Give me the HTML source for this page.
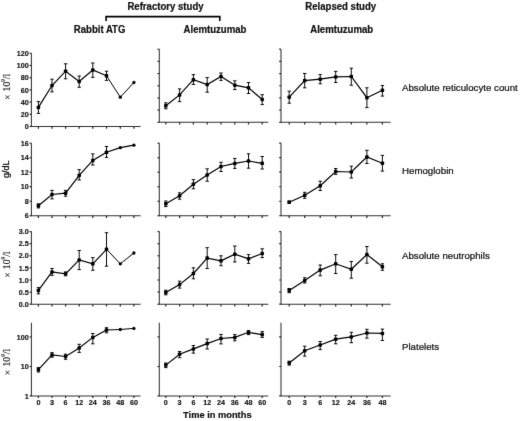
<!DOCTYPE html><html><head><meta charset="utf-8"><style>html,body{margin:0;padding:0;background:#fff;overflow:hidden;width:520px;height:421px;}svg{display:block;will-change:transform;}text{font-family:"Liberation Sans",sans-serif;fill:#111;}.b{font-weight:bold;}</style></head><body>
<svg width="520" height="421" viewBox="0 0 520 421">
<rect width="520" height="421" fill="#fff"/>
<defs><filter id="bl" x="0" y="0" width="520" height="421" filterUnits="userSpaceOnUse" color-interpolation-filters="sRGB"><feConvolveMatrix order="3" kernelMatrix="0.00524 0.06192 0.00524 0.06192 0.73137 0.06192 0.00524 0.06192 0.00524" edgeMode="duplicate" preserveAlpha="true"/></filter></defs><g filter="url(#bl)"><rect width="520" height="421" fill="#fff"/>
<text transform="translate(165.50,9.60) scale(1,1.06)" font-size="9.6" font-weight="bold" text-anchor="middle" fill="#111" stroke="#111" stroke-width="0.2">Refractory study</text>
<path d="M106.1 21V16.6H219.8V21" fill="none" stroke="#000" stroke-width="1.6"/>
<text transform="translate(99.60,33.00) scale(1,1.06)" font-size="9.6" font-weight="bold" text-anchor="middle" fill="#111" stroke="#111" stroke-width="0.2">Rabbit ATG</text>
<text transform="translate(215.00,33.00) scale(1,1.06)" font-size="9.6" font-weight="bold" text-anchor="middle" fill="#111" stroke="#111" stroke-width="0.2">Alemtuzumab</text>
<text transform="translate(340.75,9.60) scale(1,1.06)" font-size="9.6" font-weight="bold" text-anchor="middle" fill="#111" stroke="#111" stroke-width="0.2">Relapsed study</text>
<text transform="translate(341.70,33.00) scale(1,1.06)" font-size="9.6" font-weight="bold" text-anchor="middle" fill="#111" stroke="#111" stroke-width="0.2">Alemtuzumab</text>
<text transform="translate(402.00,91.40) scale(1,1.02)" font-size="9.7" text-anchor="start" fill="#111" stroke="#111" stroke-width="0.22">Absolute reticulocyte count</text>
<text transform="translate(402.00,173.90) scale(1,1.02)" font-size="9.7" text-anchor="start" fill="#111" stroke="#111" stroke-width="0.22">Hemoglobin</text>
<text transform="translate(402.00,258.90) scale(1,1.02)" font-size="9.7" text-anchor="start" fill="#111" stroke="#111" stroke-width="0.22">Absolute neutrophils</text>
<text transform="translate(402.00,350.10) scale(1,1.02)" font-size="9.7" text-anchor="start" fill="#111" stroke="#111" stroke-width="0.22">Platelets</text>
<text transform="translate(217.30,418.00) scale(1,1.06)" font-size="9.3" font-weight="bold" text-anchor="middle" fill="#111" stroke="#111" stroke-width="0.2">Time in months</text>
<text transform="translate(9.7,86.9) rotate(-90)" text-anchor="middle" fill="#111" stroke="#111" stroke-width="0.15" style="font-family:'Liberation Serif',serif" font-size="9.8"><tspan dy="0.9">&#215;</tspan><tspan dy="-0.9" dx="0.6"> 10</tspan><tspan font-size="5.10" dy="-4.31">9</tspan><tspan dy="4.31">/l</tspan></text>
<text transform="translate(9.3,169.2) rotate(-90)" text-anchor="middle" font-size="9" fill="#111" stroke="#111" stroke-width="0.3">g/dL</text>
<text transform="translate(9.7,264.6) rotate(-90)" text-anchor="middle" fill="#111" stroke="#111" stroke-width="0.15" style="font-family:'Liberation Serif',serif" font-size="9.8"><tspan dy="0.9">&#215;</tspan><tspan dy="-0.9" dx="0.6"> 10</tspan><tspan font-size="5.10" dy="-4.31">9</tspan><tspan dy="4.31">/l</tspan></text>
<text transform="translate(9.7,362.0) rotate(-90)" text-anchor="middle" fill="#111" stroke="#111" stroke-width="0.15" style="font-family:'Liberation Serif',serif" font-size="9.8"><tspan dy="0.9">&#215;</tspan><tspan dy="-0.9" dx="0.6"> 10</tspan><tspan font-size="5.10" dy="-4.31">9</tspan><tspan dy="4.31">/l</tspan></text>
<path d="M31.4 53.3V126.5H140.6" fill="none" stroke="#333" stroke-width="1.05"/>
<path d="M29.599999999999998 126.50H31.4" stroke="#222" stroke-width="1.2"/>
<text transform="translate(28.70,129.10) scale(1,1.0)" font-size="7.2" font-weight="bold" text-anchor="end" fill="#111" stroke="#111" stroke-width="0.15">0</text>
<path d="M29.599999999999998 114.30H31.4" stroke="#222" stroke-width="1.2"/>
<text transform="translate(28.70,116.90) scale(1,1.0)" font-size="7.2" font-weight="bold" text-anchor="end" fill="#111" stroke="#111" stroke-width="0.15">20</text>
<path d="M29.599999999999998 102.10H31.4" stroke="#222" stroke-width="1.2"/>
<text transform="translate(28.70,104.70) scale(1,1.0)" font-size="7.2" font-weight="bold" text-anchor="end" fill="#111" stroke="#111" stroke-width="0.15">40</text>
<path d="M29.599999999999998 89.90H31.4" stroke="#222" stroke-width="1.2"/>
<text transform="translate(28.70,92.50) scale(1,1.0)" font-size="7.2" font-weight="bold" text-anchor="end" fill="#111" stroke="#111" stroke-width="0.15">60</text>
<path d="M29.599999999999998 77.70H31.4" stroke="#222" stroke-width="1.2"/>
<text transform="translate(28.70,80.30) scale(1,1.0)" font-size="7.2" font-weight="bold" text-anchor="end" fill="#111" stroke="#111" stroke-width="0.15">80</text>
<path d="M29.599999999999998 65.50H31.4" stroke="#222" stroke-width="1.2"/>
<text transform="translate(28.70,68.10) scale(1,1.0)" font-size="7.2" font-weight="bold" text-anchor="end" fill="#111" stroke="#111" stroke-width="0.15">100</text>
<path d="M29.599999999999998 53.30H31.4" stroke="#222" stroke-width="1.2"/>
<text transform="translate(28.70,55.90) scale(1,1.0)" font-size="7.2" font-weight="bold" text-anchor="end" fill="#111" stroke="#111" stroke-width="0.15">120</text>
<path d="M38.4 126.5V128.7" stroke="#222" stroke-width="1.2"/>
<path d="M52.0 126.5V128.7" stroke="#222" stroke-width="1.2"/>
<path d="M65.6 126.5V128.7" stroke="#222" stroke-width="1.2"/>
<path d="M79.2 126.5V128.7" stroke="#222" stroke-width="1.2"/>
<path d="M92.8 126.5V128.7" stroke="#222" stroke-width="1.2"/>
<path d="M106.5 126.5V128.7" stroke="#222" stroke-width="1.2"/>
<path d="M120.3 126.5V128.7" stroke="#222" stroke-width="1.2"/>
<path d="M133.9 126.5V128.7" stroke="#222" stroke-width="1.2"/>
<path d="M38.40 107.40 L52.00 85.50 L65.60 71.20 L79.20 81.50 L92.80 70.00 L106.50 75.80" fill="none" stroke="#000" stroke-width="1.2" stroke-linejoin="miter"/>
<path d="M106.50 75.80 L120.30 97.20 L133.90 82.50" fill="none" stroke="#000" stroke-width="1.0" stroke-linejoin="miter"/>
<path d="M38.40 101.60V113.40M36.70 101.60H40.10M36.70 113.40H40.10" stroke="#000" stroke-width="0.95" fill="none"/>
<rect x="36.65" y="105.65" width="3.5" height="3.5" rx="0.9" fill="#000"/>
<path d="M52.00 79.20V91.90M50.30 79.20H53.70M50.30 91.90H53.70" stroke="#000" stroke-width="0.95" fill="none"/>
<rect x="50.25" y="83.75" width="3.5" height="3.5" rx="0.9" fill="#000"/>
<path d="M65.60 63.80V78.80M63.90 63.80H67.30M63.90 78.80H67.30" stroke="#000" stroke-width="0.95" fill="none"/>
<rect x="63.85" y="69.45" width="3.5" height="3.5" rx="0.9" fill="#000"/>
<path d="M79.20 76.00V87.30M77.50 76.00H80.90M77.50 87.30H80.90" stroke="#000" stroke-width="0.95" fill="none"/>
<rect x="77.45" y="79.75" width="3.5" height="3.5" rx="0.9" fill="#000"/>
<path d="M92.80 63.00V77.40M91.10 63.00H94.50M91.10 77.40H94.50" stroke="#000" stroke-width="0.95" fill="none"/>
<rect x="91.05" y="68.25" width="3.5" height="3.5" rx="0.9" fill="#000"/>
<path d="M106.50 71.20V80.40M104.80 71.20H108.20M104.80 80.40H108.20" stroke="#000" stroke-width="0.95" fill="none"/>
<rect x="104.75" y="74.05" width="3.5" height="3.5" rx="0.9" fill="#000"/>
<circle cx="120.30" cy="97.20" r="1.65" fill="#000"/>
<circle cx="133.90" cy="82.50" r="1.65" fill="#000"/>
<path d="M159.3 49.2V122.3H268.3" fill="none" stroke="#333" stroke-width="1.05"/>
<path d="M157.5 122.30H159.3" stroke="#222" stroke-width="1.2"/>
<path d="M157.5 110.12H159.3" stroke="#222" stroke-width="1.2"/>
<path d="M157.5 97.93H159.3" stroke="#222" stroke-width="1.2"/>
<path d="M157.5 85.75H159.3" stroke="#222" stroke-width="1.2"/>
<path d="M157.5 73.57H159.3" stroke="#222" stroke-width="1.2"/>
<path d="M157.5 61.38H159.3" stroke="#222" stroke-width="1.2"/>
<path d="M157.5 49.20H159.3" stroke="#222" stroke-width="1.2"/>
<path d="M165.8 122.3V124.5" stroke="#222" stroke-width="1.2"/>
<path d="M179.6 122.3V124.5" stroke="#222" stroke-width="1.2"/>
<path d="M193.4 122.3V124.5" stroke="#222" stroke-width="1.2"/>
<path d="M207.2 122.3V124.5" stroke="#222" stroke-width="1.2"/>
<path d="M221.0 122.3V124.5" stroke="#222" stroke-width="1.2"/>
<path d="M234.8 122.3V124.5" stroke="#222" stroke-width="1.2"/>
<path d="M248.5 122.3V124.5" stroke="#222" stroke-width="1.2"/>
<path d="M262.2 122.3V124.5" stroke="#222" stroke-width="1.2"/>
<path d="M165.80 105.80 L179.60 94.90 L193.40 79.70 L207.20 84.50 L221.00 76.50 L234.80 85.20 L248.50 87.80 L262.20 99.50" fill="none" stroke="#000" stroke-width="1.2" stroke-linejoin="miter"/>
<path d="M165.80 102.80V108.80M164.10 102.80H167.50M164.10 108.80H167.50" stroke="#000" stroke-width="0.95" fill="none"/>
<rect x="164.05" y="104.05" width="3.5" height="3.5" rx="0.9" fill="#000"/>
<path d="M179.60 88.90V101.60M177.90 88.90H181.30M177.90 101.60H181.30" stroke="#000" stroke-width="0.95" fill="none"/>
<rect x="177.85" y="93.15" width="3.5" height="3.5" rx="0.9" fill="#000"/>
<path d="M193.40 74.60V84.50M191.70 74.60H195.10M191.70 84.50H195.10" stroke="#000" stroke-width="0.95" fill="none"/>
<rect x="191.65" y="77.95" width="3.5" height="3.5" rx="0.9" fill="#000"/>
<path d="M207.20 77.60V92.20M205.50 77.60H208.90M205.50 92.20H208.90" stroke="#000" stroke-width="0.95" fill="none"/>
<rect x="205.45" y="82.75" width="3.5" height="3.5" rx="0.9" fill="#000"/>
<path d="M221.00 73.00V80.40M219.30 73.00H222.70M219.30 80.40H222.70" stroke="#000" stroke-width="0.95" fill="none"/>
<rect x="219.25" y="74.75" width="3.5" height="3.5" rx="0.9" fill="#000"/>
<path d="M234.80 80.80V89.60M233.10 80.80H236.50M233.10 89.60H236.50" stroke="#000" stroke-width="0.95" fill="none"/>
<rect x="233.05" y="83.45" width="3.5" height="3.5" rx="0.9" fill="#000"/>
<path d="M248.50 82.50V93.50M246.80 82.50H250.20M246.80 93.50H250.20" stroke="#000" stroke-width="0.95" fill="none"/>
<rect x="246.75" y="86.05" width="3.5" height="3.5" rx="0.9" fill="#000"/>
<path d="M262.20 94.70V104.60M260.50 94.70H263.90M260.50 104.60H263.90" stroke="#000" stroke-width="0.95" fill="none"/>
<rect x="260.45" y="97.75" width="3.5" height="3.5" rx="0.9" fill="#000"/>
<path d="M281.0 49.2V122.3H390.6" fill="none" stroke="#333" stroke-width="1.05"/>
<path d="M279.2 122.30H281.0" stroke="#222" stroke-width="1.2"/>
<path d="M279.2 110.12H281.0" stroke="#222" stroke-width="1.2"/>
<path d="M279.2 97.93H281.0" stroke="#222" stroke-width="1.2"/>
<path d="M279.2 85.75H281.0" stroke="#222" stroke-width="1.2"/>
<path d="M279.2 73.57H281.0" stroke="#222" stroke-width="1.2"/>
<path d="M279.2 61.38H281.0" stroke="#222" stroke-width="1.2"/>
<path d="M279.2 49.20H281.0" stroke="#222" stroke-width="1.2"/>
<path d="M289.2 122.3V124.5" stroke="#222" stroke-width="1.2"/>
<path d="M304.7 122.3V124.5" stroke="#222" stroke-width="1.2"/>
<path d="M320.2 122.3V124.5" stroke="#222" stroke-width="1.2"/>
<path d="M335.7 122.3V124.5" stroke="#222" stroke-width="1.2"/>
<path d="M351.3 122.3V124.5" stroke="#222" stroke-width="1.2"/>
<path d="M366.9 122.3V124.5" stroke="#222" stroke-width="1.2"/>
<path d="M382.4 122.3V124.5" stroke="#222" stroke-width="1.2"/>
<path d="M289.20 97.20 L304.70 80.60 L320.20 79.20 L335.70 76.90 L351.30 76.50 L366.90 97.70 L382.40 90.30" fill="none" stroke="#000" stroke-width="1.2" stroke-linejoin="miter"/>
<path d="M289.20 91.20V103.20M287.50 91.20H290.90M287.50 103.20H290.90" stroke="#000" stroke-width="0.95" fill="none"/>
<rect x="287.45" y="95.45" width="3.5" height="3.5" rx="0.9" fill="#000"/>
<path d="M304.70 73.50V87.80M303.00 73.50H306.40M303.00 87.80H306.40" stroke="#000" stroke-width="0.95" fill="none"/>
<rect x="302.95" y="78.85" width="3.5" height="3.5" rx="0.9" fill="#000"/>
<path d="M320.20 74.60V83.80M318.50 74.60H321.90M318.50 83.80H321.90" stroke="#000" stroke-width="0.95" fill="none"/>
<rect x="318.45" y="77.45" width="3.5" height="3.5" rx="0.9" fill="#000"/>
<path d="M335.70 71.40V82.50M334.00 71.40H337.40M334.00 82.50H337.40" stroke="#000" stroke-width="0.95" fill="none"/>
<rect x="333.95" y="75.15" width="3.5" height="3.5" rx="0.9" fill="#000"/>
<path d="M351.30 68.20V85.20M349.60 68.20H353.00M349.60 85.20H353.00" stroke="#000" stroke-width="0.95" fill="none"/>
<rect x="349.55" y="74.75" width="3.5" height="3.5" rx="0.9" fill="#000"/>
<path d="M366.90 87.80V107.60M365.20 87.80H368.60M365.20 107.60H368.60" stroke="#000" stroke-width="0.95" fill="none"/>
<rect x="365.15" y="95.95" width="3.5" height="3.5" rx="0.9" fill="#000"/>
<path d="M382.40 85.50V96.10M380.70 85.50H384.10M380.70 96.10H384.10" stroke="#000" stroke-width="0.95" fill="none"/>
<rect x="380.65" y="88.55" width="3.5" height="3.5" rx="0.9" fill="#000"/>
<path d="M31.4 143.2V215.75H140.6" fill="none" stroke="#333" stroke-width="1.05"/>
<path d="M29.599999999999998 215.75H31.4" stroke="#222" stroke-width="1.2"/>
<text transform="translate(28.70,218.35) scale(1,1.0)" font-size="7.2" font-weight="bold" text-anchor="end" fill="#111" stroke="#111" stroke-width="0.15">6</text>
<path d="M29.599999999999998 201.24H31.4" stroke="#222" stroke-width="1.2"/>
<text transform="translate(28.70,203.84) scale(1,1.0)" font-size="7.2" font-weight="bold" text-anchor="end" fill="#111" stroke="#111" stroke-width="0.15">8</text>
<path d="M29.599999999999998 186.73H31.4" stroke="#222" stroke-width="1.2"/>
<text transform="translate(28.70,189.33) scale(1,1.0)" font-size="7.2" font-weight="bold" text-anchor="end" fill="#111" stroke="#111" stroke-width="0.15">10</text>
<path d="M29.599999999999998 172.22H31.4" stroke="#222" stroke-width="1.2"/>
<text transform="translate(28.70,174.82) scale(1,1.0)" font-size="7.2" font-weight="bold" text-anchor="end" fill="#111" stroke="#111" stroke-width="0.15">12</text>
<path d="M29.599999999999998 157.71H31.4" stroke="#222" stroke-width="1.2"/>
<text transform="translate(28.70,160.31) scale(1,1.0)" font-size="7.2" font-weight="bold" text-anchor="end" fill="#111" stroke="#111" stroke-width="0.15">14</text>
<path d="M29.599999999999998 143.20H31.4" stroke="#222" stroke-width="1.2"/>
<text transform="translate(28.70,145.80) scale(1,1.0)" font-size="7.2" font-weight="bold" text-anchor="end" fill="#111" stroke="#111" stroke-width="0.15">16</text>
<path d="M38.4 215.75V217.95" stroke="#222" stroke-width="1.2"/>
<path d="M52.0 215.75V217.95" stroke="#222" stroke-width="1.2"/>
<path d="M65.6 215.75V217.95" stroke="#222" stroke-width="1.2"/>
<path d="M79.2 215.75V217.95" stroke="#222" stroke-width="1.2"/>
<path d="M92.8 215.75V217.95" stroke="#222" stroke-width="1.2"/>
<path d="M106.5 215.75V217.95" stroke="#222" stroke-width="1.2"/>
<path d="M120.3 215.75V217.95" stroke="#222" stroke-width="1.2"/>
<path d="M133.9 215.75V217.95" stroke="#222" stroke-width="1.2"/>
<path d="M38.40 205.80 L52.00 194.50 L65.60 193.20 L79.20 175.40 L92.80 160.40 L106.50 152.30" fill="none" stroke="#000" stroke-width="1.2" stroke-linejoin="miter"/>
<path d="M106.50 152.30 L120.30 147.70 L133.90 145.20" fill="none" stroke="#000" stroke-width="1.2" stroke-linejoin="miter"/>
<path d="M38.40 203.80V207.90M36.70 203.80H40.10M36.70 207.90H40.10" stroke="#000" stroke-width="0.95" fill="none"/>
<rect x="36.65" y="204.05" width="3.5" height="3.5" rx="0.9" fill="#000"/>
<path d="M52.00 190.40V198.90M50.30 190.40H53.70M50.30 198.90H53.70" stroke="#000" stroke-width="0.95" fill="none"/>
<rect x="50.25" y="192.75" width="3.5" height="3.5" rx="0.9" fill="#000"/>
<path d="M65.60 190.40V196.20M63.90 190.40H67.30M63.90 196.20H67.30" stroke="#000" stroke-width="0.95" fill="none"/>
<rect x="63.85" y="191.45" width="3.5" height="3.5" rx="0.9" fill="#000"/>
<path d="M79.20 169.60V180.00M77.50 169.60H80.90M77.50 180.00H80.90" stroke="#000" stroke-width="0.95" fill="none"/>
<rect x="77.45" y="173.65" width="3.5" height="3.5" rx="0.9" fill="#000"/>
<path d="M92.80 153.90V165.00M91.10 153.90H94.50M91.10 165.00H94.50" stroke="#000" stroke-width="0.95" fill="none"/>
<rect x="91.05" y="158.65" width="3.5" height="3.5" rx="0.9" fill="#000"/>
<path d="M106.50 146.50V157.40M104.80 146.50H108.20M104.80 157.40H108.20" stroke="#000" stroke-width="0.95" fill="none"/>
<rect x="104.75" y="150.55" width="3.5" height="3.5" rx="0.9" fill="#000"/>
<circle cx="120.30" cy="147.70" r="1.65" fill="#000"/>
<circle cx="133.90" cy="145.20" r="1.65" fill="#000"/>
<path d="M159.3 143.2V215.75H268.3" fill="none" stroke="#333" stroke-width="1.05"/>
<path d="M157.5 215.75H159.3" stroke="#222" stroke-width="1.2"/>
<path d="M157.5 201.24H159.3" stroke="#222" stroke-width="1.2"/>
<path d="M157.5 186.73H159.3" stroke="#222" stroke-width="1.2"/>
<path d="M157.5 172.22H159.3" stroke="#222" stroke-width="1.2"/>
<path d="M157.5 157.71H159.3" stroke="#222" stroke-width="1.2"/>
<path d="M157.5 143.20H159.3" stroke="#222" stroke-width="1.2"/>
<path d="M165.8 215.75V217.95" stroke="#222" stroke-width="1.2"/>
<path d="M179.6 215.75V217.95" stroke="#222" stroke-width="1.2"/>
<path d="M193.4 215.75V217.95" stroke="#222" stroke-width="1.2"/>
<path d="M207.2 215.75V217.95" stroke="#222" stroke-width="1.2"/>
<path d="M221.0 215.75V217.95" stroke="#222" stroke-width="1.2"/>
<path d="M234.8 215.75V217.95" stroke="#222" stroke-width="1.2"/>
<path d="M248.5 215.75V217.95" stroke="#222" stroke-width="1.2"/>
<path d="M262.2 215.75V217.95" stroke="#222" stroke-width="1.2"/>
<path d="M165.80 203.80 L179.60 195.80 L193.40 184.20 L207.20 175.00 L221.00 166.50 L234.80 163.40 L248.50 161.00 L262.20 163.30" fill="none" stroke="#000" stroke-width="1.2" stroke-linejoin="miter"/>
<path d="M165.80 201.00V206.60M164.10 201.00H167.50M164.10 206.60H167.50" stroke="#000" stroke-width="0.95" fill="none"/>
<rect x="164.05" y="202.05" width="3.5" height="3.5" rx="0.9" fill="#000"/>
<path d="M179.60 192.80V199.20M177.90 192.80H181.30M177.90 199.20H181.30" stroke="#000" stroke-width="0.95" fill="none"/>
<rect x="177.85" y="194.05" width="3.5" height="3.5" rx="0.9" fill="#000"/>
<path d="M193.40 179.60V188.80M191.70 179.60H195.10M191.70 188.80H195.10" stroke="#000" stroke-width="0.95" fill="none"/>
<rect x="191.65" y="182.45" width="3.5" height="3.5" rx="0.9" fill="#000"/>
<path d="M207.20 168.80V181.20M205.50 168.80H208.90M205.50 181.20H208.90" stroke="#000" stroke-width="0.95" fill="none"/>
<rect x="205.45" y="173.25" width="3.5" height="3.5" rx="0.9" fill="#000"/>
<path d="M221.00 162.30V171.50M219.30 162.30H222.70M219.30 171.50H222.70" stroke="#000" stroke-width="0.95" fill="none"/>
<rect x="219.25" y="164.75" width="3.5" height="3.5" rx="0.9" fill="#000"/>
<path d="M234.80 158.40V168.40M233.10 158.40H236.50M233.10 168.40H236.50" stroke="#000" stroke-width="0.95" fill="none"/>
<rect x="233.05" y="161.65" width="3.5" height="3.5" rx="0.9" fill="#000"/>
<path d="M248.50 153.80V168.20M246.80 153.80H250.20M246.80 168.20H250.20" stroke="#000" stroke-width="0.95" fill="none"/>
<rect x="246.75" y="159.25" width="3.5" height="3.5" rx="0.9" fill="#000"/>
<path d="M262.20 156.50V169.00M260.50 156.50H263.90M260.50 169.00H263.90" stroke="#000" stroke-width="0.95" fill="none"/>
<rect x="260.45" y="161.55" width="3.5" height="3.5" rx="0.9" fill="#000"/>
<path d="M281.0 143.2V215.75H390.6" fill="none" stroke="#333" stroke-width="1.05"/>
<path d="M279.2 215.75H281.0" stroke="#222" stroke-width="1.2"/>
<path d="M279.2 201.24H281.0" stroke="#222" stroke-width="1.2"/>
<path d="M279.2 186.73H281.0" stroke="#222" stroke-width="1.2"/>
<path d="M279.2 172.22H281.0" stroke="#222" stroke-width="1.2"/>
<path d="M279.2 157.71H281.0" stroke="#222" stroke-width="1.2"/>
<path d="M279.2 143.20H281.0" stroke="#222" stroke-width="1.2"/>
<path d="M289.2 215.75V217.95" stroke="#222" stroke-width="1.2"/>
<path d="M304.7 215.75V217.95" stroke="#222" stroke-width="1.2"/>
<path d="M320.2 215.75V217.95" stroke="#222" stroke-width="1.2"/>
<path d="M335.7 215.75V217.95" stroke="#222" stroke-width="1.2"/>
<path d="M351.3 215.75V217.95" stroke="#222" stroke-width="1.2"/>
<path d="M366.9 215.75V217.95" stroke="#222" stroke-width="1.2"/>
<path d="M382.4 215.75V217.95" stroke="#222" stroke-width="1.2"/>
<path d="M289.20 202.20 L304.70 195.30 L320.20 185.80 L335.70 171.50 L351.30 172.00 L366.90 157.00 L382.40 163.20" fill="none" stroke="#000" stroke-width="1.2" stroke-linejoin="miter"/>
<path d="M289.20 201.00V203.40M287.50 201.00H290.90M287.50 203.40H290.90" stroke="#000" stroke-width="0.95" fill="none"/>
<rect x="287.45" y="200.45" width="3.5" height="3.5" rx="0.9" fill="#000"/>
<path d="M304.70 192.30V198.30M303.00 192.30H306.40M303.00 198.30H306.40" stroke="#000" stroke-width="0.95" fill="none"/>
<rect x="302.95" y="193.55" width="3.5" height="3.5" rx="0.9" fill="#000"/>
<path d="M320.20 181.20V190.50M318.50 181.20H321.90M318.50 190.50H321.90" stroke="#000" stroke-width="0.95" fill="none"/>
<rect x="318.45" y="184.05" width="3.5" height="3.5" rx="0.9" fill="#000"/>
<path d="M335.70 168.50V174.30M334.00 168.50H337.40M334.00 174.30H337.40" stroke="#000" stroke-width="0.95" fill="none"/>
<rect x="333.95" y="169.75" width="3.5" height="3.5" rx="0.9" fill="#000"/>
<path d="M351.30 166.20V178.00M349.60 166.20H353.00M349.60 178.00H353.00" stroke="#000" stroke-width="0.95" fill="none"/>
<rect x="349.55" y="170.25" width="3.5" height="3.5" rx="0.9" fill="#000"/>
<path d="M366.90 150.30V163.50M365.20 150.30H368.60M365.20 163.50H368.60" stroke="#000" stroke-width="0.95" fill="none"/>
<rect x="365.15" y="155.25" width="3.5" height="3.5" rx="0.9" fill="#000"/>
<path d="M382.40 155.40V171.10M380.70 155.40H384.10M380.70 171.10H384.10" stroke="#000" stroke-width="0.95" fill="none"/>
<rect x="380.65" y="161.45" width="3.5" height="3.5" rx="0.9" fill="#000"/>
<path d="M31.4 231.6V304.2H140.6" fill="none" stroke="#333" stroke-width="1.05"/>
<path d="M29.599999999999998 304.20H31.4" stroke="#222" stroke-width="1.2"/>
<text transform="translate(28.70,306.80) scale(1,1.0)" font-size="7.2" font-weight="bold" text-anchor="end" fill="#111" stroke="#111" stroke-width="0.15">0.0</text>
<path d="M29.599999999999998 292.10H31.4" stroke="#222" stroke-width="1.2"/>
<text transform="translate(28.70,294.70) scale(1,1.0)" font-size="7.2" font-weight="bold" text-anchor="end" fill="#111" stroke="#111" stroke-width="0.15">0.5</text>
<path d="M29.599999999999998 280.00H31.4" stroke="#222" stroke-width="1.2"/>
<text transform="translate(28.70,282.60) scale(1,1.0)" font-size="7.2" font-weight="bold" text-anchor="end" fill="#111" stroke="#111" stroke-width="0.15">1.0</text>
<path d="M29.599999999999998 267.90H31.4" stroke="#222" stroke-width="1.2"/>
<text transform="translate(28.70,270.50) scale(1,1.0)" font-size="7.2" font-weight="bold" text-anchor="end" fill="#111" stroke="#111" stroke-width="0.15">1.5</text>
<path d="M29.599999999999998 255.80H31.4" stroke="#222" stroke-width="1.2"/>
<text transform="translate(28.70,258.40) scale(1,1.0)" font-size="7.2" font-weight="bold" text-anchor="end" fill="#111" stroke="#111" stroke-width="0.15">2.0</text>
<path d="M29.599999999999998 243.70H31.4" stroke="#222" stroke-width="1.2"/>
<text transform="translate(28.70,246.30) scale(1,1.0)" font-size="7.2" font-weight="bold" text-anchor="end" fill="#111" stroke="#111" stroke-width="0.15">2.5</text>
<path d="M29.599999999999998 231.60H31.4" stroke="#222" stroke-width="1.2"/>
<text transform="translate(28.70,234.20) scale(1,1.0)" font-size="7.2" font-weight="bold" text-anchor="end" fill="#111" stroke="#111" stroke-width="0.15">3.0</text>
<path d="M38.4 304.2V306.4" stroke="#222" stroke-width="1.2"/>
<path d="M52.0 304.2V306.4" stroke="#222" stroke-width="1.2"/>
<path d="M65.6 304.2V306.4" stroke="#222" stroke-width="1.2"/>
<path d="M79.2 304.2V306.4" stroke="#222" stroke-width="1.2"/>
<path d="M92.8 304.2V306.4" stroke="#222" stroke-width="1.2"/>
<path d="M106.5 304.2V306.4" stroke="#222" stroke-width="1.2"/>
<path d="M120.3 304.2V306.4" stroke="#222" stroke-width="1.2"/>
<path d="M133.9 304.2V306.4" stroke="#222" stroke-width="1.2"/>
<path d="M38.40 290.40 L52.00 271.90 L65.60 273.80 L79.20 259.90 L92.80 263.80 L106.50 249.30" fill="none" stroke="#000" stroke-width="1.2" stroke-linejoin="miter"/>
<path d="M106.50 249.30 L120.30 263.80 L133.90 253.00" fill="none" stroke="#000" stroke-width="1.0" stroke-linejoin="miter"/>
<path d="M38.40 287.60V293.80M36.70 287.60H40.10M36.70 293.80H40.10" stroke="#000" stroke-width="0.95" fill="none"/>
<rect x="36.65" y="288.65" width="3.5" height="3.5" rx="0.9" fill="#000"/>
<path d="M52.00 268.50V275.40M50.30 268.50H53.70M50.30 275.40H53.70" stroke="#000" stroke-width="0.95" fill="none"/>
<rect x="50.25" y="270.15" width="3.5" height="3.5" rx="0.9" fill="#000"/>
<path d="M65.60 271.90V275.80M63.90 271.90H67.30M63.90 275.80H67.30" stroke="#000" stroke-width="0.95" fill="none"/>
<rect x="63.85" y="272.05" width="3.5" height="3.5" rx="0.9" fill="#000"/>
<path d="M79.20 250.50V269.60M77.50 250.50H80.90M77.50 269.60H80.90" stroke="#000" stroke-width="0.95" fill="none"/>
<rect x="77.45" y="258.15" width="3.5" height="3.5" rx="0.9" fill="#000"/>
<path d="M92.80 257.60V270.30M91.10 257.60H94.50M91.10 270.30H94.50" stroke="#000" stroke-width="0.95" fill="none"/>
<rect x="91.05" y="262.05" width="3.5" height="3.5" rx="0.9" fill="#000"/>
<path d="M106.50 232.70V266.20M104.80 232.70H108.20M104.80 266.20H108.20" stroke="#000" stroke-width="0.95" fill="none"/>
<rect x="104.75" y="247.55" width="3.5" height="3.5" rx="0.9" fill="#000"/>
<circle cx="120.30" cy="263.80" r="1.65" fill="#000"/>
<circle cx="133.90" cy="253.00" r="1.65" fill="#000"/>
<path d="M159.3 231.6V304.2H268.3" fill="none" stroke="#333" stroke-width="1.05"/>
<path d="M157.5 304.20H159.3" stroke="#222" stroke-width="1.2"/>
<path d="M157.5 292.10H159.3" stroke="#222" stroke-width="1.2"/>
<path d="M157.5 280.00H159.3" stroke="#222" stroke-width="1.2"/>
<path d="M157.5 267.90H159.3" stroke="#222" stroke-width="1.2"/>
<path d="M157.5 255.80H159.3" stroke="#222" stroke-width="1.2"/>
<path d="M157.5 243.70H159.3" stroke="#222" stroke-width="1.2"/>
<path d="M157.5 231.60H159.3" stroke="#222" stroke-width="1.2"/>
<path d="M165.8 304.2V306.4" stroke="#222" stroke-width="1.2"/>
<path d="M179.6 304.2V306.4" stroke="#222" stroke-width="1.2"/>
<path d="M193.4 304.2V306.4" stroke="#222" stroke-width="1.2"/>
<path d="M207.2 304.2V306.4" stroke="#222" stroke-width="1.2"/>
<path d="M221.0 304.2V306.4" stroke="#222" stroke-width="1.2"/>
<path d="M234.8 304.2V306.4" stroke="#222" stroke-width="1.2"/>
<path d="M248.5 304.2V306.4" stroke="#222" stroke-width="1.2"/>
<path d="M262.2 304.2V306.4" stroke="#222" stroke-width="1.2"/>
<path d="M165.80 292.50 L179.60 284.60 L193.40 273.50 L207.20 258.10 L221.00 260.80 L234.80 254.20 L248.50 258.80 L262.20 253.50" fill="none" stroke="#000" stroke-width="1.2" stroke-linejoin="miter"/>
<path d="M165.80 290.20V294.80M164.10 290.20H167.50M164.10 294.80H167.50" stroke="#000" stroke-width="0.95" fill="none"/>
<rect x="164.05" y="290.75" width="3.5" height="3.5" rx="0.9" fill="#000"/>
<path d="M179.60 281.20V288.10M177.90 281.20H181.30M177.90 288.10H181.30" stroke="#000" stroke-width="0.95" fill="none"/>
<rect x="177.85" y="282.85" width="3.5" height="3.5" rx="0.9" fill="#000"/>
<path d="M193.40 267.80V278.80M191.70 267.80H195.10M191.70 278.80H195.10" stroke="#000" stroke-width="0.95" fill="none"/>
<rect x="191.65" y="271.75" width="3.5" height="3.5" rx="0.9" fill="#000"/>
<path d="M207.20 247.70V268.50M205.50 247.70H208.90M205.50 268.50H208.90" stroke="#000" stroke-width="0.95" fill="none"/>
<rect x="205.45" y="256.35" width="3.5" height="3.5" rx="0.9" fill="#000"/>
<path d="M221.00 255.80V265.70M219.30 255.80H222.70M219.30 265.70H222.70" stroke="#000" stroke-width="0.95" fill="none"/>
<rect x="219.25" y="259.05" width="3.5" height="3.5" rx="0.9" fill="#000"/>
<path d="M234.80 246.00V262.00M233.10 246.00H236.50M233.10 262.00H236.50" stroke="#000" stroke-width="0.95" fill="none"/>
<rect x="233.05" y="252.45" width="3.5" height="3.5" rx="0.9" fill="#000"/>
<path d="M248.50 254.60V263.40M246.80 254.60H250.20M246.80 263.40H250.20" stroke="#000" stroke-width="0.95" fill="none"/>
<rect x="246.75" y="257.05" width="3.5" height="3.5" rx="0.9" fill="#000"/>
<path d="M262.20 248.80V257.60M260.50 248.80H263.90M260.50 257.60H263.90" stroke="#000" stroke-width="0.95" fill="none"/>
<rect x="260.45" y="251.75" width="3.5" height="3.5" rx="0.9" fill="#000"/>
<path d="M281.0 231.6V304.2H390.6" fill="none" stroke="#333" stroke-width="1.05"/>
<path d="M279.2 304.20H281.0" stroke="#222" stroke-width="1.2"/>
<path d="M279.2 292.10H281.0" stroke="#222" stroke-width="1.2"/>
<path d="M279.2 280.00H281.0" stroke="#222" stroke-width="1.2"/>
<path d="M279.2 267.90H281.0" stroke="#222" stroke-width="1.2"/>
<path d="M279.2 255.80H281.0" stroke="#222" stroke-width="1.2"/>
<path d="M279.2 243.70H281.0" stroke="#222" stroke-width="1.2"/>
<path d="M279.2 231.60H281.0" stroke="#222" stroke-width="1.2"/>
<path d="M289.2 304.2V306.4" stroke="#222" stroke-width="1.2"/>
<path d="M304.7 304.2V306.4" stroke="#222" stroke-width="1.2"/>
<path d="M320.2 304.2V306.4" stroke="#222" stroke-width="1.2"/>
<path d="M335.7 304.2V306.4" stroke="#222" stroke-width="1.2"/>
<path d="M351.3 304.2V306.4" stroke="#222" stroke-width="1.2"/>
<path d="M366.9 304.2V306.4" stroke="#222" stroke-width="1.2"/>
<path d="M382.4 304.2V306.4" stroke="#222" stroke-width="1.2"/>
<path d="M289.20 290.40 L304.70 280.50 L320.20 270.10 L335.70 263.80 L351.30 269.20 L366.90 254.60 L382.40 266.80" fill="none" stroke="#000" stroke-width="1.2" stroke-linejoin="miter"/>
<path d="M289.20 288.50V292.70M287.50 288.50H290.90M287.50 292.70H290.90" stroke="#000" stroke-width="0.95" fill="none"/>
<rect x="287.45" y="288.65" width="3.5" height="3.5" rx="0.9" fill="#000"/>
<path d="M304.70 277.70V283.00M303.00 277.70H306.40M303.00 283.00H306.40" stroke="#000" stroke-width="0.95" fill="none"/>
<rect x="302.95" y="278.75" width="3.5" height="3.5" rx="0.9" fill="#000"/>
<path d="M320.20 265.00V275.80M318.50 265.00H321.90M318.50 275.80H321.90" stroke="#000" stroke-width="0.95" fill="none"/>
<rect x="318.45" y="268.35" width="3.5" height="3.5" rx="0.9" fill="#000"/>
<path d="M335.70 254.60V273.50M334.00 254.60H337.40M334.00 273.50H337.40" stroke="#000" stroke-width="0.95" fill="none"/>
<rect x="333.95" y="262.05" width="3.5" height="3.5" rx="0.9" fill="#000"/>
<path d="M351.30 261.50V278.20M349.60 261.50H353.00M349.60 278.20H353.00" stroke="#000" stroke-width="0.95" fill="none"/>
<rect x="349.55" y="267.45" width="3.5" height="3.5" rx="0.9" fill="#000"/>
<path d="M366.90 246.50V263.20M365.20 246.50H368.60M365.20 263.20H368.60" stroke="#000" stroke-width="0.95" fill="none"/>
<rect x="365.15" y="252.85" width="3.5" height="3.5" rx="0.9" fill="#000"/>
<path d="M382.40 263.80V270.30M380.70 263.80H384.10M380.70 270.30H384.10" stroke="#000" stroke-width="0.95" fill="none"/>
<rect x="380.65" y="265.05" width="3.5" height="3.5" rx="0.9" fill="#000"/>
<path d="M31.4 322.8V395.9H140.6" fill="none" stroke="#333" stroke-width="1.05"/>
<path d="M29.599999999999998 395.90H31.4" stroke="#222" stroke-width="1.2"/>
<text transform="translate(28.70,398.50) scale(1,1.0)" font-size="7.2" font-weight="bold" text-anchor="end" fill="#111" stroke="#111" stroke-width="0.15">1</text>
<path d="M29.599999999999998 366.50H31.4" stroke="#222" stroke-width="1.2"/>
<text transform="translate(28.70,369.10) scale(1,1.0)" font-size="7.2" font-weight="bold" text-anchor="end" fill="#111" stroke="#111" stroke-width="0.15">10</text>
<path d="M29.599999999999998 336.90H31.4" stroke="#222" stroke-width="1.2"/>
<text transform="translate(28.70,339.50) scale(1,1.0)" font-size="7.2" font-weight="bold" text-anchor="end" fill="#111" stroke="#111" stroke-width="0.15">100</text>
<path d="M38.4 395.9V398.09999999999997" stroke="#222" stroke-width="1.2"/>
<path d="M52.0 395.9V398.09999999999997" stroke="#222" stroke-width="1.2"/>
<path d="M65.6 395.9V398.09999999999997" stroke="#222" stroke-width="1.2"/>
<path d="M79.2 395.9V398.09999999999997" stroke="#222" stroke-width="1.2"/>
<path d="M92.8 395.9V398.09999999999997" stroke="#222" stroke-width="1.2"/>
<path d="M106.5 395.9V398.09999999999997" stroke="#222" stroke-width="1.2"/>
<path d="M120.3 395.9V398.09999999999997" stroke="#222" stroke-width="1.2"/>
<path d="M133.9 395.9V398.09999999999997" stroke="#222" stroke-width="1.2"/>
<text transform="translate(38.40,405.20) scale(1,1.0)" font-size="7.2" font-weight="bold" text-anchor="middle" fill="#111" stroke="#111" stroke-width="0.15">0</text>
<text transform="translate(52.00,405.20) scale(1,1.0)" font-size="7.2" font-weight="bold" text-anchor="middle" fill="#111" stroke="#111" stroke-width="0.15">3</text>
<text transform="translate(65.60,405.20) scale(1,1.0)" font-size="7.2" font-weight="bold" text-anchor="middle" fill="#111" stroke="#111" stroke-width="0.15">6</text>
<text transform="translate(79.20,405.20) scale(1,1.0)" font-size="7.2" font-weight="bold" text-anchor="middle" fill="#111" stroke="#111" stroke-width="0.15">12</text>
<text transform="translate(92.80,405.20) scale(1,1.0)" font-size="7.2" font-weight="bold" text-anchor="middle" fill="#111" stroke="#111" stroke-width="0.15">24</text>
<text transform="translate(106.50,405.20) scale(1,1.0)" font-size="7.2" font-weight="bold" text-anchor="middle" fill="#111" stroke="#111" stroke-width="0.15">36</text>
<text transform="translate(120.30,405.20) scale(1,1.0)" font-size="7.2" font-weight="bold" text-anchor="middle" fill="#111" stroke="#111" stroke-width="0.15">48</text>
<text transform="translate(133.90,405.20) scale(1,1.0)" font-size="7.2" font-weight="bold" text-anchor="middle" fill="#111" stroke="#111" stroke-width="0.15">60</text>
<path d="M38.40 369.70 L52.00 354.90 L65.60 356.50 L79.20 348.00 L92.80 337.40 L106.50 330.00" fill="none" stroke="#000" stroke-width="1.2" stroke-linejoin="miter"/>
<path d="M106.50 330.00 L120.30 329.50 L133.90 328.40" fill="none" stroke="#000" stroke-width="1.0" stroke-linejoin="miter"/>
<path d="M38.40 367.60V372.00M36.70 367.60H40.10M36.70 372.00H40.10" stroke="#000" stroke-width="0.95" fill="none"/>
<rect x="36.65" y="367.95" width="3.5" height="3.5" rx="0.9" fill="#000"/>
<path d="M52.00 352.60V357.20M50.30 352.60H53.70M50.30 357.20H53.70" stroke="#000" stroke-width="0.95" fill="none"/>
<rect x="50.25" y="353.15" width="3.5" height="3.5" rx="0.9" fill="#000"/>
<path d="M65.60 354.20V359.30M63.90 354.20H67.30M63.90 359.30H67.30" stroke="#000" stroke-width="0.95" fill="none"/>
<rect x="63.85" y="354.75" width="3.5" height="3.5" rx="0.9" fill="#000"/>
<path d="M79.20 344.30V352.40M77.50 344.30H80.90M77.50 352.40H80.90" stroke="#000" stroke-width="0.95" fill="none"/>
<rect x="77.45" y="346.25" width="3.5" height="3.5" rx="0.9" fill="#000"/>
<path d="M92.80 333.50V343.80M91.10 333.50H94.50M91.10 343.80H94.50" stroke="#000" stroke-width="0.95" fill="none"/>
<rect x="91.05" y="335.65" width="3.5" height="3.5" rx="0.9" fill="#000"/>
<path d="M106.50 327.70V332.80M104.80 327.70H108.20M104.80 332.80H108.20" stroke="#000" stroke-width="0.95" fill="none"/>
<rect x="104.75" y="328.25" width="3.5" height="3.5" rx="0.9" fill="#000"/>
<circle cx="120.30" cy="329.50" r="1.65" fill="#000"/>
<circle cx="133.90" cy="328.40" r="1.65" fill="#000"/>
<path d="M159.3 322.8V395.9H268.3" fill="none" stroke="#333" stroke-width="1.05"/>
<path d="M157.5 395.90H159.3" stroke="#222" stroke-width="1.2"/>
<path d="M157.5 366.50H159.3" stroke="#222" stroke-width="1.2"/>
<path d="M157.5 336.90H159.3" stroke="#222" stroke-width="1.2"/>
<path d="M165.8 395.9V398.09999999999997" stroke="#222" stroke-width="1.2"/>
<path d="M179.6 395.9V398.09999999999997" stroke="#222" stroke-width="1.2"/>
<path d="M193.4 395.9V398.09999999999997" stroke="#222" stroke-width="1.2"/>
<path d="M207.2 395.9V398.09999999999997" stroke="#222" stroke-width="1.2"/>
<path d="M221.0 395.9V398.09999999999997" stroke="#222" stroke-width="1.2"/>
<path d="M234.8 395.9V398.09999999999997" stroke="#222" stroke-width="1.2"/>
<path d="M248.5 395.9V398.09999999999997" stroke="#222" stroke-width="1.2"/>
<path d="M262.2 395.9V398.09999999999997" stroke="#222" stroke-width="1.2"/>
<text transform="translate(165.80,405.20) scale(1,1.0)" font-size="7.2" font-weight="bold" text-anchor="middle" fill="#111" stroke="#111" stroke-width="0.15">0</text>
<text transform="translate(179.60,405.20) scale(1,1.0)" font-size="7.2" font-weight="bold" text-anchor="middle" fill="#111" stroke="#111" stroke-width="0.15">3</text>
<text transform="translate(193.40,405.20) scale(1,1.0)" font-size="7.2" font-weight="bold" text-anchor="middle" fill="#111" stroke="#111" stroke-width="0.15">6</text>
<text transform="translate(207.20,405.20) scale(1,1.0)" font-size="7.2" font-weight="bold" text-anchor="middle" fill="#111" stroke="#111" stroke-width="0.15">12</text>
<text transform="translate(221.00,405.20) scale(1,1.0)" font-size="7.2" font-weight="bold" text-anchor="middle" fill="#111" stroke="#111" stroke-width="0.15">24</text>
<text transform="translate(234.80,405.20) scale(1,1.0)" font-size="7.2" font-weight="bold" text-anchor="middle" fill="#111" stroke="#111" stroke-width="0.15">36</text>
<text transform="translate(248.50,405.20) scale(1,1.0)" font-size="7.2" font-weight="bold" text-anchor="middle" fill="#111" stroke="#111" stroke-width="0.15">48</text>
<text transform="translate(262.20,405.20) scale(1,1.0)" font-size="7.2" font-weight="bold" text-anchor="middle" fill="#111" stroke="#111" stroke-width="0.15">60</text>
<path d="M165.80 365.10 L179.60 354.20 L193.40 348.90 L207.20 343.60 L221.00 338.50 L234.80 337.40 L248.50 332.30 L262.20 334.60" fill="none" stroke="#000" stroke-width="1.2" stroke-linejoin="miter"/>
<path d="M165.80 363.00V367.60M164.10 363.00H167.50M164.10 367.60H167.50" stroke="#000" stroke-width="0.95" fill="none"/>
<rect x="164.05" y="363.35" width="3.5" height="3.5" rx="0.9" fill="#000"/>
<path d="M179.60 351.50V357.70M177.90 351.50H181.30M177.90 357.70H181.30" stroke="#000" stroke-width="0.95" fill="none"/>
<rect x="177.85" y="352.45" width="3.5" height="3.5" rx="0.9" fill="#000"/>
<path d="M193.40 345.50V353.10M191.70 345.50H195.10M191.70 353.10H195.10" stroke="#000" stroke-width="0.95" fill="none"/>
<rect x="191.65" y="347.15" width="3.5" height="3.5" rx="0.9" fill="#000"/>
<path d="M207.20 339.00V349.00M205.50 339.00H208.90M205.50 349.00H208.90" stroke="#000" stroke-width="0.95" fill="none"/>
<rect x="205.45" y="341.85" width="3.5" height="3.5" rx="0.9" fill="#000"/>
<path d="M221.00 334.40V343.90M219.30 334.40H222.70M219.30 343.90H222.70" stroke="#000" stroke-width="0.95" fill="none"/>
<rect x="219.25" y="336.75" width="3.5" height="3.5" rx="0.9" fill="#000"/>
<path d="M234.80 334.60V340.80M233.10 334.60H236.50M233.10 340.80H236.50" stroke="#000" stroke-width="0.95" fill="none"/>
<rect x="233.05" y="335.65" width="3.5" height="3.5" rx="0.9" fill="#000"/>
<path d="M248.50 330.70V334.60M246.80 330.70H250.20M246.80 334.60H250.20" stroke="#000" stroke-width="0.95" fill="none"/>
<rect x="246.75" y="330.55" width="3.5" height="3.5" rx="0.9" fill="#000"/>
<path d="M262.20 331.60V337.40M260.50 331.60H263.90M260.50 337.40H263.90" stroke="#000" stroke-width="0.95" fill="none"/>
<rect x="260.45" y="332.85" width="3.5" height="3.5" rx="0.9" fill="#000"/>
<path d="M281.0 322.8V395.9H390.6" fill="none" stroke="#333" stroke-width="1.05"/>
<path d="M279.2 395.90H281.0" stroke="#222" stroke-width="1.2"/>
<path d="M279.2 366.50H281.0" stroke="#222" stroke-width="1.2"/>
<path d="M279.2 336.90H281.0" stroke="#222" stroke-width="1.2"/>
<path d="M289.2 395.9V398.09999999999997" stroke="#222" stroke-width="1.2"/>
<path d="M304.7 395.9V398.09999999999997" stroke="#222" stroke-width="1.2"/>
<path d="M320.2 395.9V398.09999999999997" stroke="#222" stroke-width="1.2"/>
<path d="M335.7 395.9V398.09999999999997" stroke="#222" stroke-width="1.2"/>
<path d="M351.3 395.9V398.09999999999997" stroke="#222" stroke-width="1.2"/>
<path d="M366.9 395.9V398.09999999999997" stroke="#222" stroke-width="1.2"/>
<path d="M382.4 395.9V398.09999999999997" stroke="#222" stroke-width="1.2"/>
<text transform="translate(289.20,405.20) scale(1,1.0)" font-size="7.2" font-weight="bold" text-anchor="middle" fill="#111" stroke="#111" stroke-width="0.15">0</text>
<text transform="translate(304.70,405.20) scale(1,1.0)" font-size="7.2" font-weight="bold" text-anchor="middle" fill="#111" stroke="#111" stroke-width="0.15">3</text>
<text transform="translate(320.20,405.20) scale(1,1.0)" font-size="7.2" font-weight="bold" text-anchor="middle" fill="#111" stroke="#111" stroke-width="0.15">6</text>
<text transform="translate(335.70,405.20) scale(1,1.0)" font-size="7.2" font-weight="bold" text-anchor="middle" fill="#111" stroke="#111" stroke-width="0.15">12</text>
<text transform="translate(351.30,405.20) scale(1,1.0)" font-size="7.2" font-weight="bold" text-anchor="middle" fill="#111" stroke="#111" stroke-width="0.15">24</text>
<text transform="translate(366.90,405.20) scale(1,1.0)" font-size="7.2" font-weight="bold" text-anchor="middle" fill="#111" stroke="#111" stroke-width="0.15">36</text>
<text transform="translate(382.40,405.20) scale(1,1.0)" font-size="7.2" font-weight="bold" text-anchor="middle" fill="#111" stroke="#111" stroke-width="0.15">48</text>
<path d="M289.20 363.00 L304.70 350.80 L320.20 345.00 L335.70 339.20 L351.30 336.90 L366.90 333.00 L382.40 333.40" fill="none" stroke="#000" stroke-width="1.2" stroke-linejoin="miter"/>
<path d="M289.20 361.20V365.10M287.50 361.20H290.90M287.50 365.10H290.90" stroke="#000" stroke-width="0.95" fill="none"/>
<rect x="287.45" y="361.25" width="3.5" height="3.5" rx="0.9" fill="#000"/>
<path d="M304.70 346.20V356.10M303.00 346.20H306.40M303.00 356.10H306.40" stroke="#000" stroke-width="0.95" fill="none"/>
<rect x="302.95" y="349.05" width="3.5" height="3.5" rx="0.9" fill="#000"/>
<path d="M320.20 341.50V349.60M318.50 341.50H321.90M318.50 349.60H321.90" stroke="#000" stroke-width="0.95" fill="none"/>
<rect x="318.45" y="343.25" width="3.5" height="3.5" rx="0.9" fill="#000"/>
<path d="M335.70 335.30V343.80M334.00 335.30H337.40M334.00 343.80H337.40" stroke="#000" stroke-width="0.95" fill="none"/>
<rect x="333.95" y="337.45" width="3.5" height="3.5" rx="0.9" fill="#000"/>
<path d="M351.30 332.30V342.70M349.60 332.30H353.00M349.60 342.70H353.00" stroke="#000" stroke-width="0.95" fill="none"/>
<rect x="349.55" y="335.15" width="3.5" height="3.5" rx="0.9" fill="#000"/>
<path d="M366.90 329.30V338.10M365.20 329.30H368.60M365.20 338.10H368.60" stroke="#000" stroke-width="0.95" fill="none"/>
<rect x="365.15" y="331.25" width="3.5" height="3.5" rx="0.9" fill="#000"/>
<path d="M382.40 329.10V340.50M380.70 329.10H384.10M380.70 340.50H384.10" stroke="#000" stroke-width="0.95" fill="none"/>
<rect x="380.65" y="331.65" width="3.5" height="3.5" rx="0.9" fill="#000"/>
</g>
</svg></body></html>
